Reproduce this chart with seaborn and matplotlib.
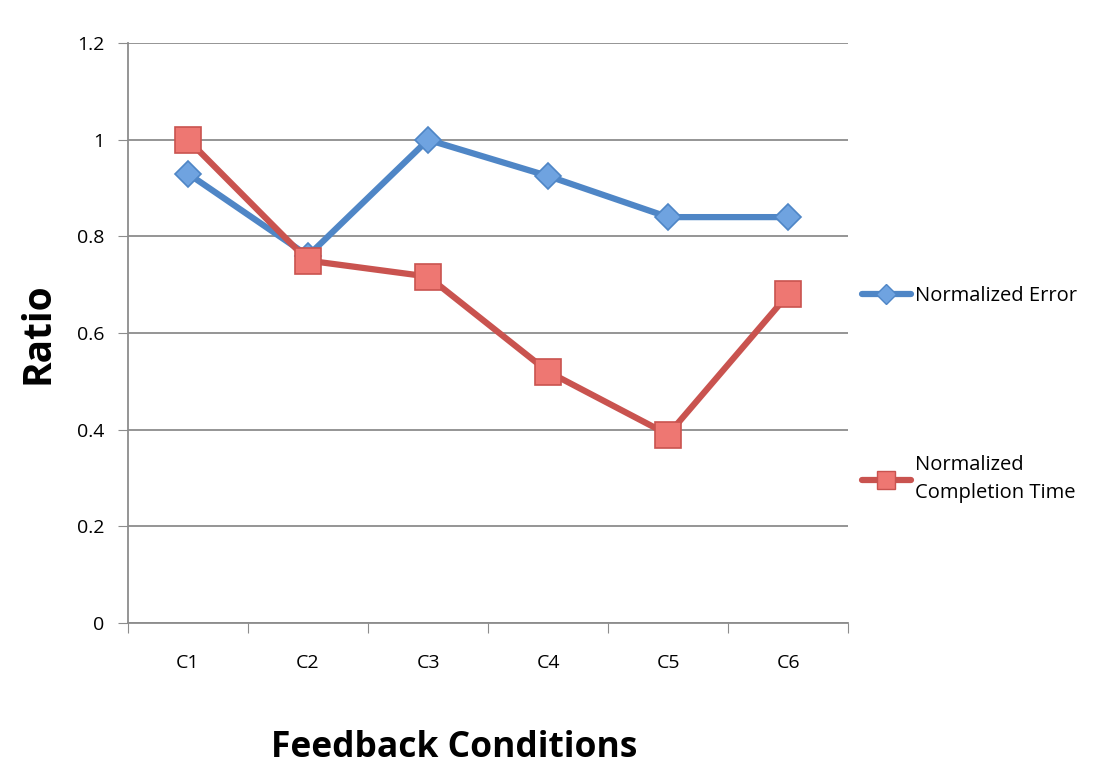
import pandas as pd
import numpy as np
import matplotlib.pyplot as plt
import seaborn as sns
from matplotlib.lines import Line2D

conditions = ['C1', 'C2', 'C3', 'C4', 'C5', 'C6']
norm_error = [0.93, 0.76, 1.0, 0.925, 0.84, 0.84]
norm_time = [1.0, 0.75, 0.717, 0.52, 0.39, 0.68]
series_names = ['Normalized Error', 'Normalized\nCompletion Time']
yticks = [0, 0.2, 0.4, 0.6, 0.8, 1, 1.2]
ytick_labels = ['0', '0.2', '0.4', '0.6', '0.8', '1', '1.2']

df = pd.DataFrame({
    'cond': conditions * 2,
    'value': norm_error + norm_time,
    'series': [series_names[0]] * 6 + [series_names[1]] * 6,
})
df['x'] = df['cond'].map({c: i for i, c in enumerate(conditions)})

sns.set_style('white')
plt.rcParams['font.family'] = ['Open Sans', 'DejaVu Sans']

line_cols = {series_names[0]: '#4F86C6', series_names[1]: '#C9534F'}
face_cols = {series_names[0]: '#6FA3E0', series_names[1]: '#EE7772'}
marks = {series_names[0]: 'D', series_names[1]: 's'}
msize = {series_names[0]: 13, series_names[1]: 19}

fig = plt.figure(figsize=(11.08, 7.68), dpi=100)
ax = fig.add_axes([0.1155, 0.1888, 0.65, 0.755])

ax.grid(axis='y', color='#8c8c8c', lw=1.3, zorder=0)
ax.set_axisbelow(True)

for s in series_names:
    sub = df[df['series'] == s]
    sns.lineplot(data=sub, x='x', y='value', ax=ax, color=line_cols[s], lw=4.5,
                 marker=marks[s], markersize=msize[s],
                 markerfacecolor=face_cols[s], markeredgecolor=line_cols[s],
                 markeredgewidth=1.2, legend=False, zorder=3)

ax.set_xlim(-0.5, len(conditions) - 0.5)
ax.set_ylim(0, 1.2)
ax.set_yticks(yticks)
ax.set_yticklabels(ytick_labels, fontsize=14, color='black')
ax.set_xticks(np.arange(len(conditions) + 1) - 0.5)
ax.set_xticklabels([])
ax.set_xticks(np.arange(len(conditions)), minor=True)
ax.set_xticklabels(conditions, minor=True, fontsize=14, color='black')
ax.tick_params(axis='x', which='major', direction='out', length=7, color='#8c8c8c', bottom=True)
ax.tick_params(axis='x', which='minor', length=0, pad=22)
ax.tick_params(axis='y', direction='out', length=7, color='#8c8c8c', left=True, pad=10)

for side in ['top', 'right']:
    ax.spines[side].set_visible(False)
for side in ['left', 'bottom']:
    ax.spines[side].set_color('#8c8c8c')
    ax.spines[side].set_linewidth(1.3)

ax.set_ylabel('Ratio', fontsize=28, fontweight='bold', color='black', va='center')
ax.yaxis.set_label_coords(-0.125, 0.5)
ax.set_xlabel('Feedback Conditions', fontsize=25.5, fontweight='bold', color='black', va='center')
ax.xaxis.set_label_coords(0.453, -0.215)

handles = [Line2D([0], [0], color=line_cols[s], lw=4.5, marker=marks[s],
                  markersize=10 if s == series_names[0] else 13,
                  markerfacecolor=face_cols[s], markeredgecolor=line_cols[s])
           for s in series_names]
leg = ax.legend(handles, series_names, loc='upper left', bbox_to_anchor=(1.0, 0.605),
                frameon=False, fontsize=14.5, handlelength=2.4, handletextpad=0.2,
                labelspacing=7.4, borderaxespad=0.3)
for t in leg.get_texts():
    t.set_color('black')
    t.set_linespacing(1.5)

fig.savefig('out.png', dpi=100)
